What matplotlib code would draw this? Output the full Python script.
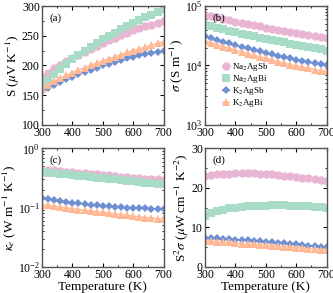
import matplotlib
matplotlib.use("Agg")
import matplotlib.pyplot as plt
from matplotlib.ticker import AutoMinorLocator, LogLocator, NullFormatter

plt.rcParams["font.family"] = ["Liberation Serif", "DejaVu Serif"]
plt.rcParams["mathtext.fontset"] = "stix"

# temperature grid (K)
T = [300, 320, 340, 360, 380, 400, 420, 440, 460, 480, 500,
     520, 540, 560, 580, 600, 620, 640, 660, 680, 700]

names = ["Na$_2$AgSb", "Na$_2$AgBi", "K$_2$AgSb", "K$_2$AgBi"]

# Seebeck coefficient (uV/K)
S_na_sb = [180, 188, 195, 201, 207, 212, 218, 223, 228, 233, 238,
           243, 247, 251, 255, 259, 263, 266, 269, 272, 275]
S_na_bi = [165, 175, 185, 194, 202, 210, 217, 224, 231, 237, 244,
           250, 255, 261, 266, 271, 276, 281, 285, 290, 295]
S_k_sb = [156, 162, 167, 172, 177, 181, 185, 189, 193, 196, 200,
          203, 206, 209, 212, 214, 217, 219, 221, 223, 225]
S_k_bi = [160, 167, 173, 178, 183, 188, 192, 196, 200, 204, 208,
          211, 215, 218, 222, 225, 228, 231, 234, 237, 240]

# electrical conductivity (S/m)
sig_na_sb = [72000, 68000, 64500, 61000, 58000, 55000, 52500, 50000, 47500, 45500, 43500,
             41500, 39800, 38200, 36600, 35100, 33700, 32400, 31200, 30300, 29500]
sig_na_bi = [49000, 46000, 43200, 40700, 38400, 36300, 34400, 32600, 31000, 29500, 28100,
             26800, 25600, 24400, 23300, 22300, 21300, 20400, 19500, 18600, 17800]
sig_k_sb = [31000, 28800, 26900, 25100, 23500, 22000, 20700, 19500, 18400, 17300, 16300,
            15400, 14600, 13800, 13100, 12500, 11900, 11400, 10900, 10600, 10300]
sig_k_bi = [26000, 24000, 22300, 20800, 19400, 18100, 16900, 15800, 14800, 13900, 13100,
            12300, 11600, 10900, 10300, 9800, 9300, 8900, 8500, 8200, 7900]

# electronic thermal conductivity (W/m/K)
ke_na_sb = [0.44, 0.43, 0.425, 0.415, 0.405, 0.395, 0.39, 0.38, 0.37, 0.365, 0.355,
            0.35, 0.34, 0.335, 0.33, 0.32, 0.315, 0.31, 0.305, 0.30, 0.295]
ke_na_bi = [0.40, 0.39, 0.385, 0.375, 0.365, 0.355, 0.345, 0.34, 0.33, 0.32, 0.315,
            0.305, 0.30, 0.29, 0.285, 0.28, 0.27, 0.265, 0.26, 0.255, 0.25]
ke_k_sb = [0.146, 0.140, 0.135, 0.130, 0.126, 0.122, 0.118, 0.115, 0.112, 0.109, 0.107,
           0.105, 0.103, 0.101, 0.100, 0.099, 0.098, 0.097, 0.096, 0.095, 0.095]
ke_k_bi = [0.113, 0.109, 0.105, 0.102, 0.099, 0.096, 0.093, 0.090, 0.088, 0.085, 0.083,
           0.081, 0.078, 0.076, 0.074, 0.072, 0.070, 0.068, 0.067, 0.065, 0.064]

# power factor (uW/cm/K^2)
pf_na_sb = [23.0, 23.3, 23.5, 23.6, 23.6, 23.7, 23.7, 23.7, 23.7, 23.6, 23.5,
            23.4, 23.3, 23.1, 23.0, 22.8, 22.6, 22.4, 22.2, 21.9, 21.7]
pf_na_bi = [13.0, 13.6, 14.1, 14.5, 14.8, 15.0, 15.2, 15.3, 15.4, 15.5, 15.5,
            15.6, 15.6, 15.6, 15.5, 15.5, 15.4, 15.3, 15.2, 15.1, 15.0]
pf_k_sb = [7.4, 7.3, 7.2, 7.1, 7.0, 6.9, 6.8, 6.7, 6.6, 6.5, 6.4,
           6.2, 6.1, 6.0, 5.8, 5.7, 5.6, 5.4, 5.3, 5.1, 5.0]
pf_k_bi = [6.6, 6.5, 6.4, 6.3, 6.2, 6.0, 5.9, 5.8, 5.7, 5.6, 5.5,
           5.4, 5.2, 5.1, 5.0, 4.9, 4.8, 4.6, 4.5, 4.4, 4.3]

colors = ["#e8b6d3", "#a9dcc6", "#6e8fd2", "#ffb893"]
markers = ["o", "s", "D", "^"]
msizes = [6, 5.5, 4.5, 6]

fig, axs = plt.subplots(2, 2, figsize=(3.33, 2.93), dpi=100)
fig.subplots_adjust(left=0.126, right=0.981, top=0.979, bottom=0.089, wspace=0.34, hspace=0.2)

panels = [
    (axs[0, 0], [S_na_sb, S_na_bi, S_k_sb, S_k_bi], "S ($\\mu$V K$^{-1}$)", "(a)", False, (100, 300)),
    (axs[0, 1], [sig_na_sb, sig_na_bi, sig_k_sb, sig_k_bi], "$\\sigma$ (S m$^{-1}$)", "(b)", True, (1e3, 1e5)),
    (axs[1, 0], [ke_na_sb, ke_na_bi, ke_k_sb, ke_k_bi], "$\\kappa_e$ (W m$^{-1}$ K$^{-1}$)", "(c)", True, (1e-2, 1e0)),
    (axs[1, 1], [pf_na_sb, pf_na_bi, pf_k_sb, pf_k_bi], "S$^2\\sigma$ ($\\mu$W cm$^{-1}$ K$^{-2}$)", "(d)", False, (0, 30)),
]

for ax, series, ylabel, tag, logy, ylim in panels:
    for y, c, m, ms, lab in zip(series, colors, markers, msizes, names):
        ax.plot(T, y, color=c, marker=m, markersize=ms, linestyle="-", linewidth=1.0,
                markeredgewidth=0, label=lab)
    ax.set_xlim(300, 700)
    ax.set_ylim(*ylim)
    ax.set_xticks([300, 400, 500, 600, 700])
    ax.xaxis.set_minor_locator(AutoMinorLocator(2))
    if logy:
        ax.set_yscale("log")
        ax.yaxis.set_minor_locator(LogLocator(base=10, subs=range(2, 10)))
        ax.yaxis.set_minor_formatter(NullFormatter())
    else:
        ax.yaxis.set_minor_locator(AutoMinorLocator(2))
    ax.set_ylabel(ylabel, fontsize=9.5, labelpad=0)
    ax.text(0.06, 0.94, tag, transform=ax.transAxes, fontsize=8, va="top")
    ax.tick_params(direction="in", which="both", top=True, right=True, labelsize=8.5, pad=1.5)
    ax.tick_params(which="major", length=3)
    ax.tick_params(which="minor", length=1.5)
    for sp in ax.spines.values():
        sp.set_color("#555555")
        sp.set_linewidth(1.0)

axs[1, 0].set_xlabel("Temperature (K)", fontsize=9.5, labelpad=0)
axs[1, 1].set_xlabel("Temperature (K)", fontsize=9.5, labelpad=0)

axs[0, 1].legend(loc="lower left", bbox_to_anchor=(0.09, 0.08), frameon=False, fontsize=6.5,
                 handlelength=0.8, handletextpad=0.3, labelspacing=0.0, borderpad=0.2)

fig.savefig("out.png", dpi=100)
